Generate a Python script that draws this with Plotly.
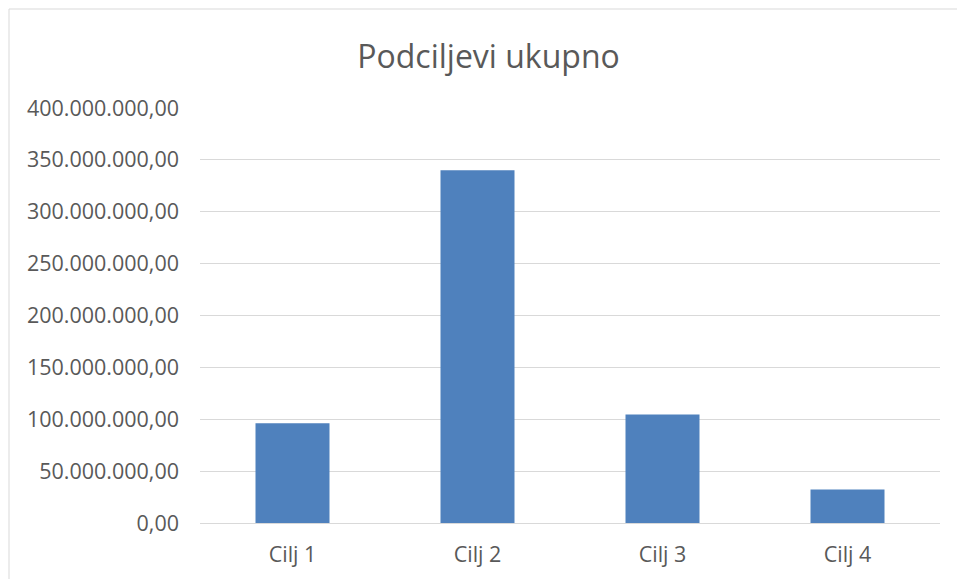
import plotly.graph_objects as go

categories = ["Cilj 1", "Cilj 2", "Cilj 3", "Cilj 4"]
values = [96100000, 340000000, 104500000, 32300000]

tick_vals = [0, 50e6, 100e6, 150e6, 200e6, 250e6, 300e6, 350e6, 400e6]

grey_text = "#595959"
grid = "#D9D9D9"

W, H = 957, 579

fig = go.Figure()
fig.add_trace(go.Bar(x=categories, y=values, marker=dict(color="#4F81BD", line=dict(width=0)),
                     width=0.4))

fig.update_layout(
    width=W, height=H,
    paper_bgcolor="white", plot_bgcolor="white",
    separators=",.",
    margin=dict(l=200, r=17, t=108, b=56),
    font=dict(family="Open Sans", color=grey_text),
    title=dict(text="Podciljevi ukupno", x=488.5 / W, xref="container", xanchor="center",
               y=1 - 57 / H, yref="container", yanchor="middle",
               font=dict(size=32, color=grey_text)),
    showlegend=False,
)
fig.update_yaxes(range=[0, 400e6], tickvals=tick_vals, tickformat=",.2f",
                 showgrid=True, gridcolor=grid, gridwidth=1,
                 zeroline=True, zerolinecolor=grid, zerolinewidth=1,
                 showline=False, ticks="", ticklabelstandoff=20, automargin=False,
                 tickfont=dict(size=21.5, color=grey_text))
fig.update_xaxes(showgrid=False, showline=False, ticks="", ticklabelstandoff=16,
                 automargin=False, tickfont=dict(size=21.5, color=grey_text))

# outer chart border: only the top and left edges are inside the window
border = dict(color=grid, width=1)
fig.add_shape(type="line", xref="paper", yref="paper",
              xsizemode="pixel", ysizemode="pixel", xanchor=0, yanchor=0,
              x0=-191, x1=800, y0=514, y1=514, line=border)
fig.add_shape(type="line", xref="paper", yref="paper",
              xsizemode="pixel", ysizemode="pixel", xanchor=0, yanchor=0,
              x0=-191, x1=-191, y0=-100, y1=514, line=border)

# drop the default page margin so the figure fills the window exactly
fig.write_html("out.html", config={"displayModeBar": False},
               post_script="document.body.style.margin='0';document.body.style.overflow='hidden';")
